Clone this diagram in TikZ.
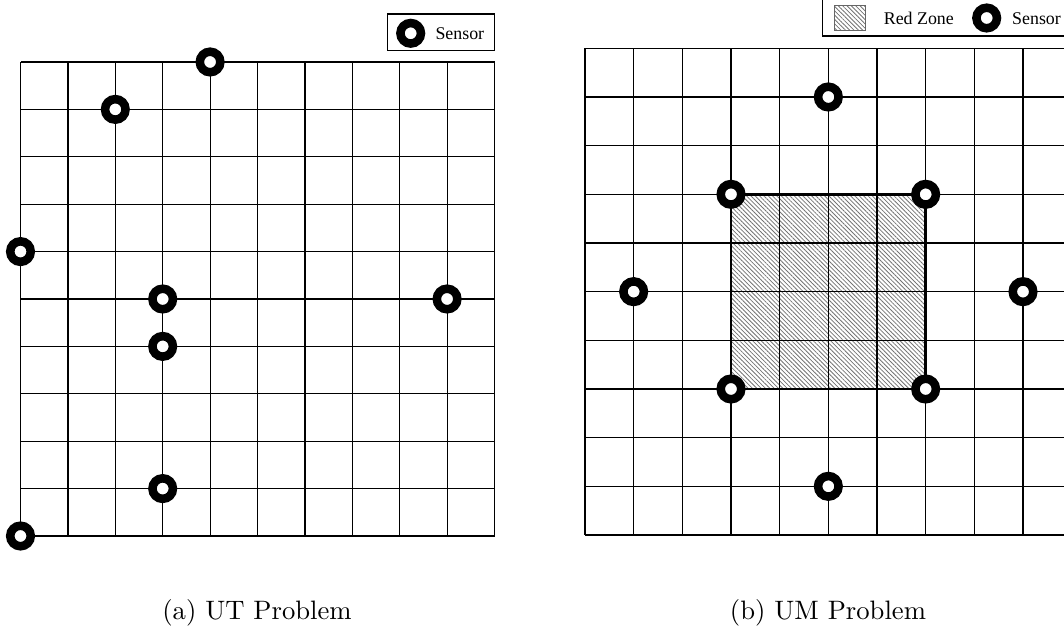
\documentclass[tikz,border=0pt]{standalone}
\usepackage{fontspec}
\usepackage{tikz}
\usetikzlibrary{patterns.meta}
\newfontfamily\legende{Liberation Serif}
\tikzset{
  capteur/.style={circle,draw=black,fill=white,line width=3.2pt,inner sep=0pt,minimum size=7.7pt},
  grille/.style={line width=0.45pt},
  hachures/.style={pattern={Lines[angle=-45,distance=1.15pt,line width=0.3pt]},pattern color=black!55},
  texte/.style={font=\legende\fontsize{6.7}{8}\selectfont,anchor=base west,inner sep=0pt},
  titre/.style={font=\fontsize{10}{12}\selectfont,anchor=base,inner sep=0pt}
}

\begin{document}
\begin{tikzpicture}[x=0.375pt,y=0.375pt]
  \clip (0,0) rectangle (1064,629);

  % (a) grille et capteurs
  \begin{scope}[shift={(20.5,93)},x=17.775pt,y=17.775pt]
    \foreach \k in {0,...,10} {
      \draw[grille] (\k,0) -- (\k,10);
      \draw[grille] (0,\k) -- (10,\k);
    }
    \foreach \x/\y [count=\i] in {4/10,2/9,0/6,3/5,3/4,9/5,3/1,0/0}
      \node[capteur] (a\i) at (\x,\y) {};
  \end{scope}

  % legende (a)
  \draw[grille] (387.7,578.3) rectangle (494.3,615);
  \node[capteur] (la) at (410.7,595.7) {};
  \node[texte] (ta) at (435,589.7) {Sensor};

  % (b) zone rouge, grille et capteurs
  \begin{scope}[shift={(585,94)},x=18.25pt,y=18.25pt]
    \fill[hachures] (3,3) rectangle (7,7);
    \foreach \k in {0,...,10} {
      \draw[grille] (\k,0) -- (\k,10);
      \draw[grille] (0,\k) -- (10,\k);
    }
    \draw[line width=0.9pt] (3,3) rectangle (7,7);
    \foreach \x/\y [count=\i] in {5/9,3/7,7/7,1/5,9/5,3/3,7/3,5/1}
      \node[capteur] (b\i) at (\x,\y) {};
  \end{scope}

  % legende (b)
  \draw[grille] (822.3,593) rectangle (1080,632);
  \fill[hachures] (834.3,598.3) rectangle (865.7,623.7);
  \draw[black!60,line width=0.35pt] (834.3,598.3) rectangle (865.7,623.7);
  \node[texte] (tz) at (883.3,604.5) {Red Zone};
  \node[capteur] (lb) at (986.7,611) {};
  \node[texte] (tb) at (1011.7,604.5) {Sensor};

  % sous-titres
  \node[titre] (capa) at (257,9) {(a) UT Problem};
  \node[titre] (capb) at (828,9) {(b) UM Problem};
\end{tikzpicture}
\end{document}
